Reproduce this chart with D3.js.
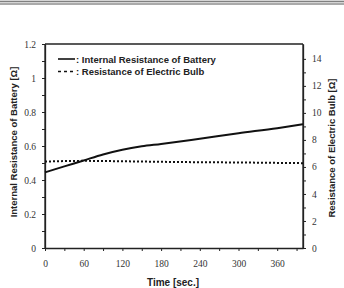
<!DOCTYPE html>
<html><head><meta charset="utf-8">
<script src="https://cdn.jsdelivr.net/npm/d3@7"></script>
<style>body{margin:0;background:#fff}svg{display:block}</style>
</head><body>
<svg id="c" width="344" height="288"></svg>
<script>
const timeS = [0, 30, 60, 90, 120, 150, 180, 240, 300, 360, 400];
const batteryR = [0.445, 0.48, 0.515, 0.55, 0.578, 0.598, 0.612, 0.643, 0.675, 0.705, 0.728];
const bulbTime = [0, 60, 120, 180, 240, 300, 360, 400];
const bulbR = [6.4, 6.45, 6.42, 6.38, 6.35, 6.33, 6.3, 6.28];
const xTicks = [0, 60, 120, 180, 240, 300, 360];
const yLeftTicks = [0, 0.2, 0.4, 0.6, 0.8, 1, 1.2];
const yRightTicks = [0, 2, 4, 6, 8, 10, 12, 14];
const legendLabels = [": Internal Resistance of Battery", ": Resistance of Electric Bulb"];

const svg = d3.select("#c");
const L = 45, R = 303, T = 44, B = 248;
const x = d3.scaleLinear().domain([0, 400]).range([L, R]);
const yL = d3.scaleLinear().domain([0, 1.2]).range([B, T]);
const yR = d3.scaleLinear().domain([0, 15.1]).range([B, T]);

// header lines
svg.append("rect").attr("x",0).attr("y",0).attr("width",344).attr("height",5).attr("fill","#d4d4d4");
svg.append("line").attr("x1",0).attr("x2",344).attr("y1",1.5).attr("y2",1.5).attr("stroke","#808080").attr("stroke-width",1);
svg.append("line").attr("x1",0).attr("x2",344).attr("y1",4).attr("y2",4).attr("stroke","#808080").attr("stroke-width",1);

const tickFont = "'Liberation Serif', serif";
const axCol = "#222";

function styleAxis(g){
  g.selectAll("path").attr("stroke", axCol).attr("stroke-width", 1.3);
  g.selectAll("line").attr("stroke", axCol).attr("stroke-width", 1);
  g.selectAll("text").attr("font-family", tickFont).attr("font-size", 9.5).attr("fill","#333");
}

const gx = svg.append("g").attr("transform",`translate(0,${B})`)
  .call(d3.axisBottom(x).tickValues(xTicks).tickSize(3).tickPadding(9).tickSizeOuter(0).tickFormat(d3.format("d")));
styleAxis(gx);
svg.append("g").attr("transform",`translate(0,${B})`)
  .call(d3.axisBottom(x).tickValues(d3.range(30, 400, 60)).tickSize(3).tickFormat("")).call(g=>{g.select("path").remove(); g.selectAll("line").attr("stroke",axCol);});

const gl = svg.append("g").attr("transform",`translate(${L},0)`)
  .call(d3.axisLeft(yL).tickValues(yLeftTicks).tickSize(3).tickPadding(6).tickSizeOuter(0).tickFormat(d=>d===0?"0":d3.format("")(+d.toFixed(1))));
styleAxis(gl);
svg.append("g").attr("transform",`translate(${L},0)`)
  .call(d3.axisLeft(yL).tickValues(d3.range(0.1, 1.2, 0.2)).tickSize(3).tickFormat("")).call(g=>{g.select("path").remove(); g.selectAll("line").attr("stroke",axCol);});

const gr = svg.append("g").attr("transform",`translate(${R},0)`)
  .call(d3.axisRight(yR).tickValues(yRightTicks).tickSize(3).tickPadding(6).tickSizeOuter(0));
styleAxis(gr);
svg.append("g").attr("transform",`translate(${R},0)`)
  .call(d3.axisRight(yR).tickValues(d3.range(1, 15, 2)).tickSize(3).tickFormat("")).call(g=>{g.select("path").remove(); g.selectAll("line").attr("stroke",axCol);});

// frame
svg.append("line").attr("x1",L).attr("x2",R).attr("y1",T).attr("y2",T).attr("stroke",axCol).attr("stroke-width",1.3);
svg.append("line").attr("x1",L).attr("x2",L).attr("y1",T).attr("y2",B).attr("stroke",axCol).attr("stroke-width",1.3);
svg.append("line").attr("x1",R).attr("x2",R).attr("y1",T).attr("y2",B).attr("stroke",axCol).attr("stroke-width",1.3);

// lines
const lineL = d3.line().x((d,i)=>x(timeS[i])).y(d=>yL(d)).curve(d3.curveMonotoneX);
svg.append("path").datum(batteryR).attr("d", lineL).attr("fill","none").attr("stroke","#111").attr("stroke-width",2);
const lineR = d3.line().x((d,i)=>x(bulbTime[i])).y(d=>yR(d)).curve(d3.curveMonotoneX);
svg.append("path").datum(bulbR).attr("d", lineR).attr("fill","none").attr("stroke","#111").attr("stroke-width",2).attr("stroke-dasharray","2,2");

// legend
const lg = svg.append("g");
lg.append("line").attr("x1",58).attr("x2",75).attr("y1",59).attr("y2",59).attr("stroke","#111").attr("stroke-width",1.6);
lg.append("line").attr("x1",58).attr("x2",74).attr("y1",71.5).attr("y2",71.5).attr("stroke","#111").attr("stroke-width",1.6).attr("stroke-dasharray","3,3");
legendLabels.forEach((t,i)=>{
  lg.append("text").attr("x",76).attr("y",62.5 + i*12.5).text(t)
    .attr("font-family","'Liberation Sans', Arial, sans-serif").attr("font-weight","bold").attr("font-size",9.5).attr("fill","#222");
});

// axis titles
svg.append("text").attr("transform",`translate(17,${142}) rotate(-90)`).attr("text-anchor","middle")
  .text("Internal Resistance of Battery [Ω]")
  .attr("font-family","'Liberation Sans', Arial, sans-serif").attr("font-weight","bold").attr("font-size",9.5).attr("fill","#222");
svg.append("text").attr("transform",`translate(335,${148}) rotate(-90)`).attr("text-anchor","middle")
  .text("Resistance of Electric Bulb [Ω]")
  .attr("font-family","'Liberation Sans', Arial, sans-serif").attr("font-weight","bold").attr("font-size",9.5).attr("fill","#222");
svg.append("text").attr("x",173).attr("y",286).attr("text-anchor","middle")
  .text("Time [sec.]")
  .attr("font-family","'Liberation Sans', Arial, sans-serif").attr("font-weight","bold").attr("font-size",10).attr("fill","#222");
</script>
</body></html>
